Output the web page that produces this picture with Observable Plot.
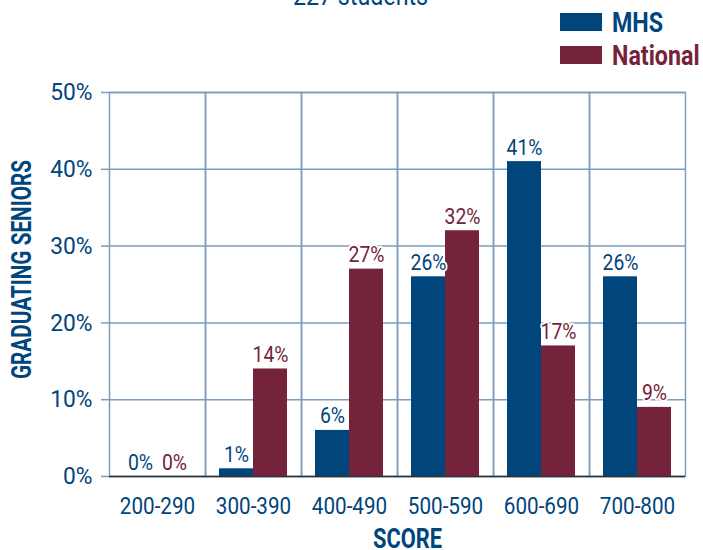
<!DOCTYPE html>
<html><head><meta charset="utf-8">
<script src="https://cdn.jsdelivr.net/npm/d3@7"></script>
<script src="https://cdn.jsdelivr.net/npm/@observablehq/plot@0.6"></script>
<style>
body{margin:0;background:#fff;}
#wrap{position:relative;width:703px;height:550px;overflow:hidden;font-family:Roboto,"Liberation Sans",sans-serif;}
#title{position:absolute;left:0;width:721px;top:-17px;text-align:center;font-size:27px;line-height:27px;color:#00457c;transform:scaleX(0.86);transform-origin:360.5px 0;white-space:nowrap;}
.lg-sw{position:absolute;width:42px;height:18px;}
.lg-tx{position:absolute;font-size:28px;line-height:28px;font-weight:bold;transform:scaleX(0.83);transform-origin:0 0;white-space:nowrap;}
#chart{position:absolute;left:0;top:0;}
g[aria-label="fx-axis label"] text, g[aria-label="y-axis label"] text{font-weight:bold;}
</style></head><body><div id="wrap"><div id="chart"></div></div>
<script>
const categories = ["200-290","300-390","400-490","500-590","600-690","700-800"];
const seriesNames = ["MHS","National"];
const mhs = [0,1,6,26,41,26];
const national = [0,14,27,32,17,9];
const yTicks = [0,10,20,30,40,50];
const colors = ["#00457c","#74233b"];
const titleText = "227 students";
const xLabel = "SCORE";
const yLabel = "GRADUATING SENIORS";

const data = categories.flatMap((c,i)=>[
  {score:c, series:seriesNames[0], value:mhs[i]},
  {score:c, series:seriesNames[1], value:national[i]}
]);

const wrap = document.getElementById("wrap");
const t = document.createElement("div"); t.id="title"; t.textContent = titleText; wrap.appendChild(t);
seriesNames.forEach((s,i)=>{
  const sw = document.createElement("div"); sw.className="lg-sw";
  sw.style.left="560px"; sw.style.top=(13+33*i)+"px"; sw.style.background=colors[i]; wrap.appendChild(sw);
  const tx = document.createElement("div"); tx.className="lg-tx";
  tx.style.left="612px"; tx.style.top=(9+33*i)+"px"; tx.style.color=colors[i]; tx.textContent=s; wrap.appendChild(tx);
});

const grid = "#7b9cbd";
const plot = Plot.plot({
  width:703, height:550, marginLeft:108, marginRight:18, marginTop:92, marginBottom:74,
  style:{fontFamily:'Roboto,"Liberation Sans",sans-serif', fontSize:"24px", color:"#00457c", background:"transparent"},
  fx:{domain:categories, padding:0, axis:null},
  x:{domain:seriesNames, axis:null, paddingInner:0, paddingOuter:0.41},
  y:{domain:[0,50], axis:null},
  color:{domain:seriesNames, range:colors},
  marks:[
    Plot.gridY(yTicks,{stroke:grid, strokeOpacity:1, strokeWidth:1.5}),
    Plot.frame({stroke:grid, strokeWidth:1.5}),
    Plot.barY(data,{fx:"score", x:"series", y:"value", fill:"series"}),
    Plot.ruleY([0],{stroke:"#333", strokeWidth:1.5}),
    Plot.text(data,{fx:"score", x:"series", y:"value", text:d=>d.value+"%", fill:"series", stroke:"white", strokeWidth:4, dy:-14, fontSize:22}),
    Plot.axisFx({anchor:"bottom", tickSize:0, tickPadding:20, fontSize:24, label:xLabel, labelAnchor:"center", labelArrow:"none", labelOffset:71}),
    Plot.axisY(yTicks,{anchor:"left", tickFormat:d=>d+"%", tickSize:8, tickPadding:9, fontSize:24, stroke:grid, strokeWidth:1.5, strokeOpacity:1, label:yLabel, labelAnchor:"center", labelArrow:"none", labelOffset:98})
  ]
});
document.getElementById("chart").appendChild(plot);

function condense(sel, f, size){
  plot.querySelectorAll(sel).forEach(el=>{
    if(size) el.setAttribute("font-size", size);
    const L = el.getComputedTextLength();
    el.setAttribute("textLength", (L*f).toFixed(1));
    el.setAttribute("lengthAdjust","spacingAndGlyphs");
  });
}
condense('g[aria-label="fx-axis tick label"] text', 0.86);
condense('g[aria-label="y-axis tick label"] text', 0.95);
condense('g[aria-label="text"] text', 0.88);
condense('g[aria-label="fx-axis label"] text', 0.78, 28);
condense('g[aria-label="y-axis label"] text', 0.74, 28);
plot.querySelectorAll('g[aria-label="fx-axis label"] text').forEach(el=>el.setAttribute("dx", 10));
plot.querySelectorAll('g[aria-label="y-axis label"] text').forEach(el=>el.setAttribute("dx", 15));
</script></body></html>
